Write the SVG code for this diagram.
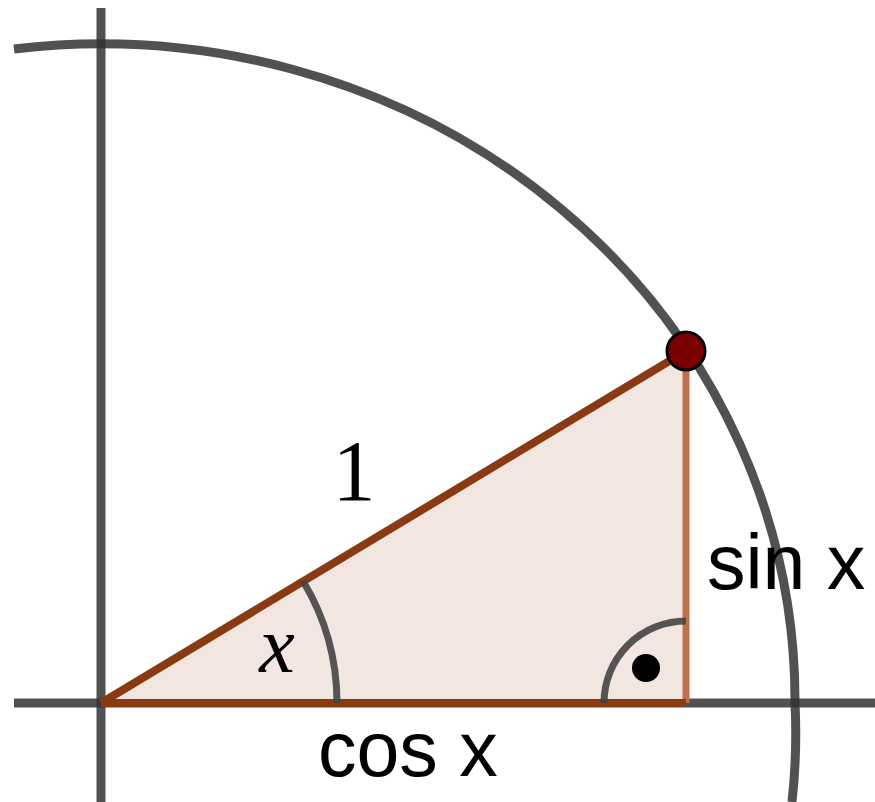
<svg xmlns="http://www.w3.org/2000/svg" width="875" height="802" viewBox="0 0 875 802">
<style>
.ax{stroke:#333;stroke-opacity:0.85;stroke-width:9;fill:none}
.arc{stroke:#444;stroke-opacity:0.9;stroke-width:7;fill:none}
.sans{font-family:"Liberation Sans",Arial,sans-serif;fill:#000}
.math{font-family:"Liberation Serif","DejaVu Serif",serif;fill:#000}
</style>
<rect width="875" height="802" fill="#fff"/>
<g id="axes">
<line class="ax" x1="101" y1="8" x2="101" y2="802"/>
<line class="ax" x1="14" y1="703" x2="875" y2="703"/>
</g>
<g id="circle">
<path class="ax" d="M14,49 A694,657 0 0 1 795,703 A694,657 0 0 1 792,802"/>
</g>
<g id="triangle">
<polygon points="101,703 686,351 686,703" fill="#f2e6e1"/>
<line x1="686" y1="351" x2="686" y2="703" stroke="#c0714c" stroke-width="7"/>
<line x1="101" y1="703" x2="686" y2="703" stroke="#8a3a12" stroke-width="8"/>
<line x1="101" y1="703" x2="686" y2="351" stroke="#8a3a12" stroke-width="8"/>
</g>
<g id="angle-x">
<path class="arc" d="M303,581 A236,236 0 0 1 337,703"/>
</g>
<g id="right-angle">
<path class="arc" d="M686,621 A82,82 0 0 0 604,703"/>
<circle cx="646" cy="668" r="14" fill="#000"/>
</g>
<g id="point">
<circle cx="686" cy="351" r="19" fill="#7d0000" stroke="#000" stroke-width="3"/>
</g>
<g id="labels">
<text class="math" x="354" y="500" font-size="86" text-anchor="middle">1</text>
<text class="math" x="277" y="672" font-size="80" font-style="italic" text-anchor="middle">x</text>
<text class="sans" x="707" y="589" font-size="77">sin x</text>
<text class="sans" x="318" y="776" font-size="77">cos x</text>
</g>
</svg>
